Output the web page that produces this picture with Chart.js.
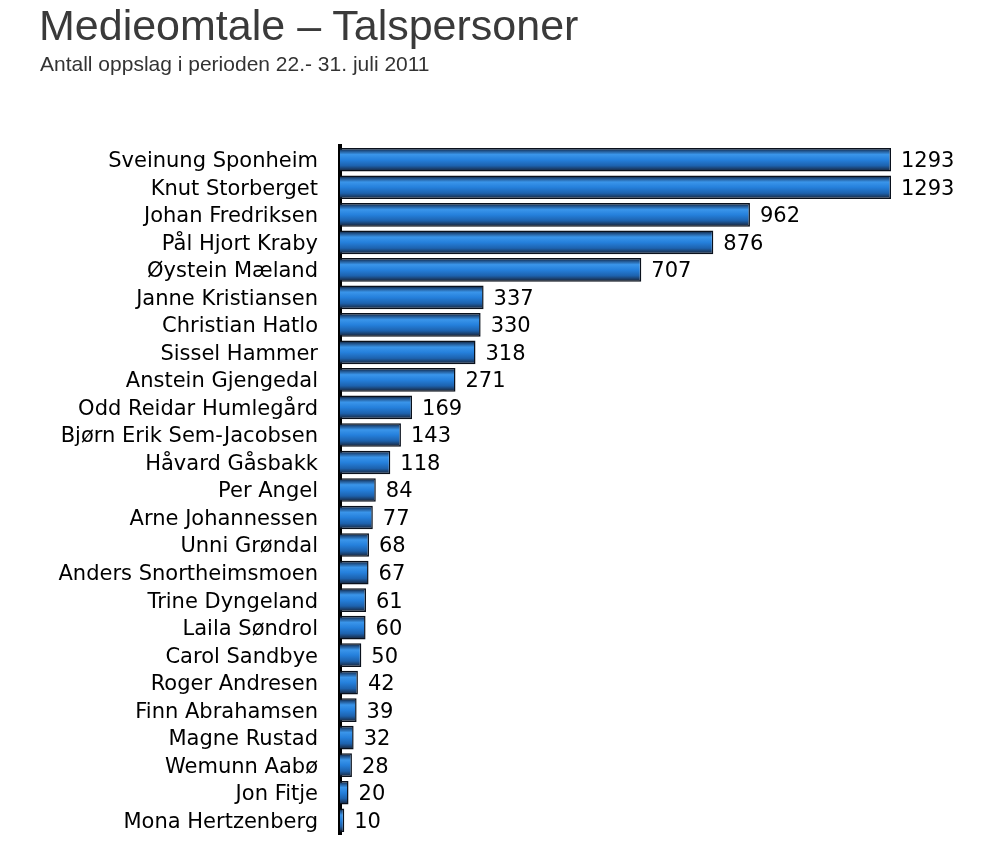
<!DOCTYPE html>
<html><head><meta charset="utf-8">
<script src="https://cdn.jsdelivr.net/npm/chart.js@4/dist/chart.umd.min.js"></script>
<style>
html,body{margin:0;padding:0;background:#fff;width:990px;height:852px;overflow:hidden}
#wrap{position:relative;width:990px;height:852px}
#title{position:absolute;left:39px;top:1px;font-family:"Liberation Sans",Arial,sans-serif;font-size:43px;color:#3a3a3a;white-space:nowrap}
#sub{position:absolute;left:40px;top:52px;font-family:"Liberation Sans",Arial,sans-serif;font-size:21px;color:#333;white-space:nowrap}
canvas{position:absolute;left:0;top:0}
</style></head><body>
<div id="wrap">
<canvas id="c" width="990" height="852"></canvas>
<div id="title">Medieomtale – Talspersoner</div>
<div id="sub">Antall oppslag i perioden 22.- 31. juli 2011</div>
</div>
<script>
const names = ["Sveinung Sponheim","Knut Storberget","Johan Fredriksen","Pål Hjort Kraby","Øystein Mæland","Janne Kristiansen","Christian Hatlo","Sissel Hammer","Anstein Gjengedal","Odd Reidar Humlegård","Bjørn Erik Sem-Jacobsen","Håvard Gåsbakk","Per Angel","Arne Johannessen","Unni Grøndal","Anders Snortheimsmoen","Trine Dyngeland","Laila Søndrol","Carol Sandbye","Roger Andresen","Finn Abrahamsen","Magne Rustad","Wemunn Aabø","Jon Fitje","Mona Hertzenberg"];
const counts = [1293,1293,962,876,707,337,330,318,271,169,143,118,84,77,68,67,61,60,50,42,39,32,28,20,10];

const valueLabels = {
  id:'valueLabels',
  afterDatasetsDraw(chart){
    const ctx = chart.ctx;
    const meta = chart.getDatasetMeta(0);
    ctx.save();
    ctx.font = '21px "DejaVu Sans", Verdana, sans-serif';
    ctx.fillStyle = '#000';
    ctx.textAlign = 'left';
    ctx.textBaseline = 'middle';
    meta.data.forEach((el,i)=>{
      ctx.fillText(String(counts[i]), el.x + 10, el.y + 2);
    });
    ctx.restore();
  }
};

const BAR_PCT = 0.86;
function barGradient(context){
  const chart = context.chart;
  const ys = chart.scales && chart.scales.y;
  const area = chart.chartArea;
  if(!ys || !area) return '#1f78d0';
  const yc = ys.getPixelForValue(context.dataIndex);
  const band = area.height / names.length;
  const h = band * BAR_PCT;
  if(!isFinite(yc) || !isFinite(h)) return '#1f78d0';
  const y0 = yc - h/2, y1 = yc + h/2;
  const g = chart.ctx.createLinearGradient(0,y0,0,y1);
  g.addColorStop(0,'#0a1422');
  g.addColorStop(0.12,'#1f4f86');
  g.addColorStop(0.28,'#3a95ea');
  g.addColorStop(0.5,'#2580dc');
  g.addColorStop(0.75,'#1d62ae');
  g.addColorStop(0.92,'#1a3456');
  g.addColorStop(1,'#141e30');
  return g;
}

new Chart(document.getElementById('c'),{
  type:'bar',
  data:{labels:names,datasets:[{data:counts,backgroundColor:barGradient,borderColor:'#0a111c',borderWidth:1.5,barPercentage:BAR_PCT,categoryPercentage:1}]},
  options:{
    indexAxis:'y',
    responsive:false,
    animation:false,
    layout:{padding:{top:146,bottom:18,left:0,right:99}},
    plugins:{legend:{display:false},tooltip:{enabled:false},title:{display:false}},
    scales:{
      x:{display:false,min:0,max:1293},
      y:{
        z:1,
        grid:{display:false,drawTicks:false},
        border:{display:true,color:'#000',width:4},
        ticks:{color:'#000',padding:22,labelOffset:2,autoSkip:false,font:{family:'"DejaVu Sans", Verdana, sans-serif',size:21}},
        afterFit(scale){scale.width = 340; scale.paddingTop = 0; scale.paddingBottom = 0;}
      }
    }
  },
  plugins:[valueLabels]
});
</script>
</body></html>
